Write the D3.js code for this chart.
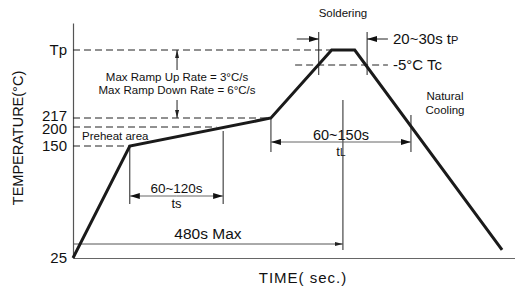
<!DOCTYPE html>
<html>
<head>
<meta charset="utf-8">
<script src="https://cdn.jsdelivr.net/npm/d3@7"></script>
<style>
  body { margin: 0; background: #fff; }
  svg { display: block; font-family: "Liberation Sans", Arial, sans-serif; }
</style>
</head>
<body>
<div id="chart"></div>
<script>
// reflow profile (schematic), time in s, temperature in °C
const TP = 245;          // peak temperature (Tp), drawn schematically
const TC = TP - 5;       // Tc = Tp - 5°C
const profileTime = [0, 101, 352, 460, 501, 763];
const profileTemp = [25, 150, 217, TP, TP, 34];

// y tick values and labels
const tempTicks = [25, 150, 200, 217, TP];
const tempLabels = ["25", "150", "200", "217", "Tp"];

// key times of the annotations
const tsStart = 101, tsEnd = 267;      // 150 -> 200
const tlStart = 352, tlEnd = 601;      // above 217
const tpStart = 437, tpEnd = 523;      // within 5°C of peak
const maxTime = 480;
const rampTime = 185;

const W = 515, H = 288;

// schematic (piecewise) temperature axis, like the datasheet drawing
const x = d3.scaleLinear().domain([0, 786]).range([73, 515]);
const y = d3.scaleLinear()
  .domain([25, 150, 200, 217, TC, TP, 254])
  .range([258, 146, 127, 118, 65, 50, 23]);

const svg = d3.select("#chart").append("svg")
  .attr("width", W)
  .attr("height", H);

// arrow heads
const defs = svg.append("defs");
defs.append("marker")
  .attr("id", "head")
  .attr("viewBox", "0 0 10 6")
  .attr("refX", 10).attr("refY", 3)
  .attr("markerWidth", 10).attr("markerHeight", 6)
  .attr("markerUnits", "userSpaceOnUse")
  .attr("orient", "auto")
  .append("path")
  .attr("d", "M0,0L10,3L0,6Z")
  .attr("fill", "#111");
defs.append("marker")
  .attr("id", "headSmall")
  .attr("viewBox", "0 0 8 4")
  .attr("refX", 8).attr("refY", 2)
  .attr("markerWidth", 8).attr("markerHeight", 4)
  .attr("markerUnits", "userSpaceOnUse")
  .attr("orient", "auto")
  .append("path")
  .attr("d", "M0,0L8,2L0,4Z")
  .attr("fill", "#222");

// axes
const yAxis = svg.append("g")
  .attr("transform", `translate(${x(0)},0)`)
  .call(d3.axisLeft(y)
    .tickValues(tempTicks)
    .tickFormat((d, i) => tempLabels[i])
    .tickSize(0)
    .tickSizeOuter(0)
    .tickPadding(6));
yAxis.select(".domain").attr("stroke", "#555").attr("stroke-width", 1.2);
yAxis.selectAll("text")
  .attr("font-size", 15)
  .attr("font-family", "Liberation Sans, Arial, sans-serif")
  .attr("fill", "#111");
// 217 and 200 sit very close: nudge them apart a little
yAxis.selectAll(".tick").filter(d => d === 217).select("text").attr("dy", "0.18em");
yAxis.selectAll(".tick").filter(d => d === 200).select("text").attr("dy", "0.42em");

const xAxis = svg.append("g")
  .attr("transform", `translate(0,${y(25)})`)
  .call(d3.axisBottom(x).tickValues([]).tickSizeOuter(0));
xAxis.select(".domain").attr("stroke", "#666").attr("stroke-width", 1.2);

// dashed reference lines
const dashes = [
  { t: TP, from: 0, to: 460 },
  { t: 217, from: 0, to: 352 },
  { t: 200, from: 0, to: 255 },
  { t: 150, from: 0, to: 101 },
  { t: TC, from: 395, to: 560 }
];
svg.append("g")
  .selectAll("line")
  .data(dashes)
  .join("line")
  .attr("x1", d => x(d.from))
  .attr("x2", d => x(d.to))
  .attr("y1", d => y(d.t))
  .attr("y2", d => y(d.t))
  .attr("stroke", "#222")
  .attr("stroke-width", 1)
  .attr("stroke-dasharray", "7,4");

// thin helper lines
const thin = svg.append("g").attr("stroke", "#222").attr("stroke-width", 1);
function vline(t, y1, y2) {
  thin.append("line").attr("x1", x(t)).attr("x2", x(t)).attr("y1", y1).attr("y2", y2);
}
function arrow(x1, y1, x2, y2, marker, color) {
  svg.append("line")
    .attr("x1", x1).attr("y1", y1).attr("x2", x2).attr("y2", y2)
    .attr("stroke", color || "#222")
    .attr("stroke-width", 1)
    .attr("marker-end", `url(#${marker})`);
}

// ts
vline(tsStart, y(150), 204);
vline(tsEnd, 131, 204);
const tsMid = (x(tsStart) + x(tsEnd)) / 2;
arrow(tsMid, 196, x(tsStart), 196, "head", "#666");
arrow(tsMid, 196, x(tsEnd), 196, "head", "#666");

// tL
vline(tlStart, y(217), 152);
vline(tlEnd, 115, 152);
const tlMid = (x(tlStart) + x(tlEnd)) / 2;
arrow(tlMid, 142, x(tlStart), 142, "head", "#666");
arrow(tlMid, 142, x(tlEnd), 142, "head", "#666");

// 480 s max
vline(maxTime, 100, 250);
arrow(x(0), 244, x(maxTime), 244, "headSmall", "#555");

// tp
vline(tpStart, 32, 75);
vline(tpEnd, 32, 75);
arrow(x(398), 39, x(tpStart), 39, "head");
arrow(x(560), 39, x(tpEnd), 39, "head");

// ramp rate arrows
arrow(x(rampTime), 70, x(rampTime), y(TP), "headSmall");
arrow(x(rampTime), 100, x(rampTime), y(217), "headSmall");

// profile line
const line = d3.line()
  .x(d => x(d[0]))
  .y(d => y(d[1]));
svg.append("path")
  .datum(d3.zip(profileTime, profileTemp))
  .attr("d", line)
  .attr("fill", "none")
  .attr("stroke", "#1a1a1a")
  .attr("stroke-width", 3)
  .attr("stroke-linejoin", "miter");

// labels
function label(tx, ty, str, size, anchor) {
  return svg.append("text")
    .attr("x", tx).attr("y", ty)
    .attr("font-size", size)
    .attr("text-anchor", anchor || "start")
    .attr("fill", "#111")
    .text(str);
}
label(x(rampTime), 81, "Max Ramp Up Rate = 3°C/s", 11.5, "middle");
label(x(rampTime), 94, "Max Ramp Down Rate = 6°C/s", 11.5, "middle");
label(82, 140, "Preheat area", 11.5);
label(x(maxTime), 17, "Soldering", 11.5, "middle");
label(445, 100, "Natural", 11.5, "middle");
label(445, 114, "Cooling", 11.5, "middle");
label(tsMid, 193, "60~120s", 13.5, "middle");
label(tsMid, 208, "ts", 13, "middle");
label(tlMid, 140, "60~150s", 14.5, "middle");
const tl = label(tlMid, 156, "t", 13, "middle");
tl.append("tspan").attr("font-size", 10).text("L");
label((x(0) + x(maxTime)) / 2, 239, "480s Max", 15.5, "middle");
const tp = label(393, 44, "20~30s t", 15);
tp.append("tspan").attr("font-size", 11).text("P");
label(393, 70, "-5°C Tc", 15);

// axis titles
svg.append("text")
  .attr("transform", `translate(23,138) rotate(-90)`)
  .attr("text-anchor", "middle")
  .attr("font-size", 14.5)
  .attr("fill", "#111")
  .text("TEMPERATURE(°C)");
svg.append("text")
  .attr("x", 303).attr("y", 283)
  .attr("text-anchor", "middle")
  .attr("font-size", 15)
  .attr("letter-spacing", 1)
  .attr("fill", "#111")
  .text("TIME( sec.)");
</script>
</body>
</html>
